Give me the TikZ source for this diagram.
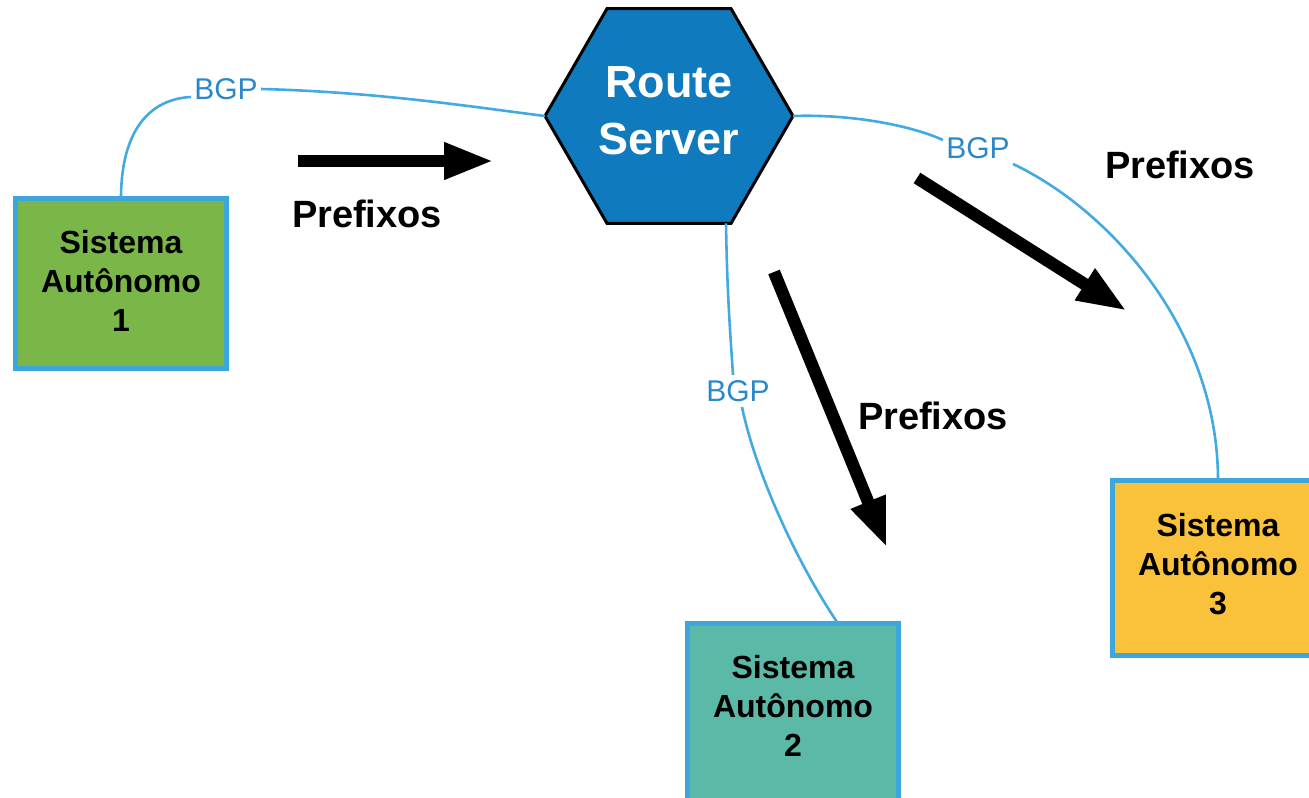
\documentclass[tikz,border=0pt]{standalone}
\usepackage{fontspec}
\setmainfont{Liberation Sans}
\usetikzlibrary{shapes.geometric,arrows.meta,calc}

\definecolor{asgreen}{HTML}{7AB648}
\definecolor{asteal}{HTML}{5BB9A7}
\definecolor{asyellow}{HTML}{FAC23A}
\definecolor{edgeblue}{HTML}{3DA6DD}
\definecolor{hexblue}{HTML}{0F7BBE}
\definecolor{linkblue}{HTML}{42AAE0}
\definecolor{bgpblue}{HTML}{2A88C8}

\begin{document}
\begin{tikzpicture}[x=0.5pt,y=-0.5pt,
  asbox/.style={draw=edgeblue, line width=2.5pt, minimum width=105.5pt,
    inner sep=0pt, outer sep=0pt},
  astext/.style={align=center, inner sep=0pt,
    font=\bfseries\fontsize{16}{19.5}\selectfont},
  bgp/.style={text=bgpblue, inner sep=1.5pt, font=\fontsize{15}{18}\selectfont},
  link/.style={draw=linkblue, line width=1.3pt},
  flow/.style={line width=6.2pt, -{Triangle[length=25pt,width=17pt]}},
  pfx/.style={font=\bfseries\fontsize{19}{23}\selectfont}]

\useasboundingbox (0,0) rectangle (1309,797);
\clip (0,0) rectangle (1309,797);

% route server
\node[regular polygon, regular polygon sides=6, minimum size=124pt,
  fill=hexblue, draw=black, line width=1.5pt, inner sep=0pt, outer sep=0pt]
  (rs) at (669,116) {};
\node[text=white, align=center, inner sep=0pt,
  font=\bfseries\fontsize{22.5}{28.5}\selectfont]
  (rstext) at (669,111) {Route\\Server};

% autonomous systems
\node[asbox, fill=asgreen, minimum height=85pt] (as1) at (121,283.5) {};
\node[astext] (as1t) at (121,280.5) {Sistema\\Autônomo\\1};
\node[asbox, fill=asteal, minimum height=92.5pt] (as2) at (793,716) {};
\node[astext] (as2t) at (793,706) {Sistema\\Autônomo\\2};
\node[asbox, fill=asyellow, minimum height=87.5pt] (as3) at (1218,568) {};
\node[astext] (as3t) at (1218,564.5) {Sistema\\Autônomo\\3};

% BGP session labels
\node[bgp] (bgp1) at (226,89) {BGP};
\node[bgp] (bgp2) at (978,148) {BGP};
\node[bgp] (bgp3) at (738,391) {BGP};

% BGP sessions
\draw[link] (as1.north) .. controls (121,130) and (150,99) .. ($(bgp1.west)+(0,8)$);
\draw[link] (bgp1.east) .. controls (380,92) and (480,108) .. (rs.west);

\draw[link] (rs.east) .. controls (850,114) and (910,125) .. ($(bgp2.west)+(0,-8)$);
\draw[link] ($(bgp2.south east)+(0,2)$) .. controls (1110,210) and (1218,330) .. (as3.north);

\draw[link] ($(rs.south)+(57,0)$) .. controls (727,290) and (730,330) .. ($(bgp3.north)+(-5,-2)$);
\draw[link] ($(bgp3.south)+(4,2)$) .. controls (755,470) and (795,560) .. ($(as2.north)+(45,0)$);

% prefix announcements
\coordinate (f1s) at (298,161);
\coordinate (f1e) at (494,161);
\coordinate (f2s) at (917,178);
\coordinate (f2e) at (1127,311);
\coordinate (f3s) at (774,272);
\coordinate (f3e) at (887,548);
\draw[flow] (f1s) -- (f1e);
\draw[flow] (f2s) -- (f2e);
\draw[flow] (f3s) -- (f3e);

\node[pfx] (p1) at (367,214) {Prefixos};
\node[pfx] (p2) at (1180,165) {Prefixos};
\node[pfx] (p3) at (933,416) {Prefixos};
\end{tikzpicture}
\end{document}
